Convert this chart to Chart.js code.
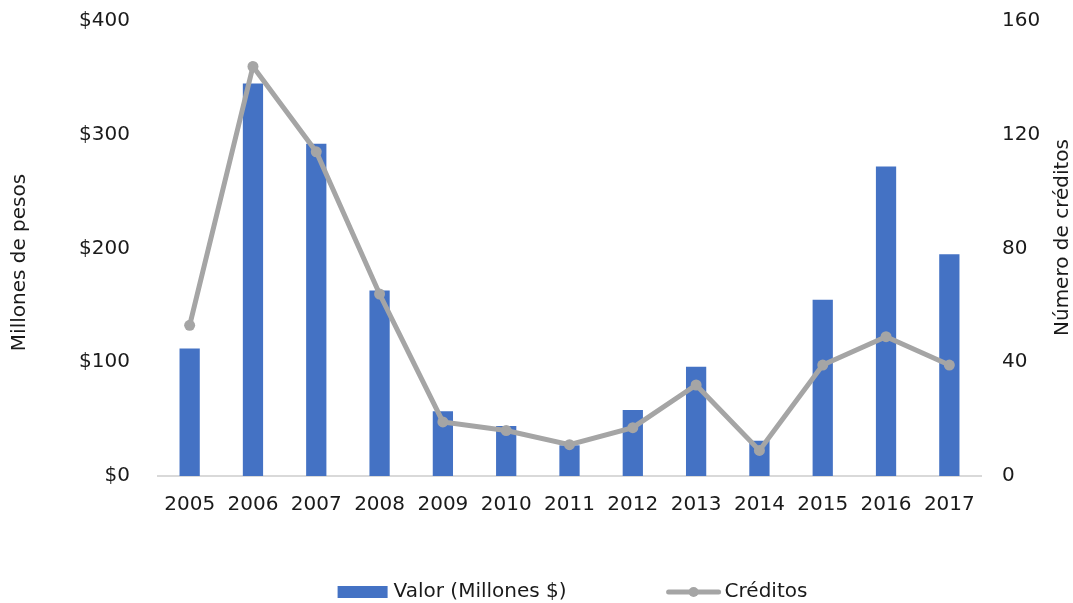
<!DOCTYPE html>
<html>
<head>
<meta charset="utf-8">
<script src="https://cdn.jsdelivr.net/npm/chart.js@4.4.1/dist/chart.umd.min.js"></script>
<style>
  html, body { margin: 0; padding: 0; background: #fff; }
  #wrap { width: 1073px; height: 603px; }
</style>
</head>
<body>
<div id="wrap"><canvas id="chart" width="1073" height="603"></canvas></div>
<script>
const years = ['2005', '2006', '2007', '2008', '2009', '2010', '2011', '2012', '2013', '2014', '2015', '2016', '2017'];
const valor = [112, 345, 292, 163, 57, 44, 27, 58, 96, 31, 155, 272, 195];
const creditos = [53, 144, 114, 64, 19, 16, 11, 17, 32, 9, 39, 49, 39];
const leftTicks = [0, 100, 200, 300, 400];
const rightTicks = [0, 40, 80, 120, 160];
const leftTitle = 'Millones de pesos';
const rightTitle = 'Número de créditos';

const FONT = '"DejaVu Sans", Verdana, sans-serif';
const BLUE = '#4472C4';
const GREY = '#A5A5A5';
const TEXT = '#1a1a1a';

function vText(ctx, text, x, y) {
  ctx.save();
  ctx.translate(x, y);
  ctx.rotate(-Math.PI / 2);
  ctx.textAlign = 'center';
  ctx.textBaseline = 'middle';
  ctx.fillText(text, 0, 0);
  ctx.restore();
}

// axis titles (both read bottom to top) and the legend under the axis
const extras = {
  id: 'extras',
  afterDraw(chart) {
    const ctx = chart.ctx;
    const area = chart.chartArea;
    const mid = (area.top + area.bottom) / 2;
    ctx.save();
    ctx.font = '20px ' + FONT;
    ctx.fillStyle = TEXT;

    vText(ctx, leftTitle, 20, mid + 14);
    vText(ctx, rightTitle, 1063, mid - 11);

    const y = 592;
    ctx.textBaseline = 'middle';
    const ds = chart.data.datasets;
    const w0 = ctx.measureText(ds[0].label).width;
    const w1 = ctx.measureText(ds[1].label).width;
    const total = 50 + 6 + w0 + 100 + 54 + 4 + w1;
    let x = (area.left + area.right) / 2 - total / 2 + 3;
    ctx.fillStyle = ds[0].backgroundColor;
    ctx.fillRect(x, y - 6, 50, 12);
    x += 56;
    ctx.fillStyle = TEXT;
    ctx.fillText(ds[0].label, x, y);
    x += w0 + 100;
    ctx.strokeStyle = ds[1].borderColor;
    ctx.lineWidth = 5;
    ctx.lineCap = 'round';
    ctx.beginPath();
    ctx.moveTo(x + 2, y);
    ctx.lineTo(x + 52, y);
    ctx.stroke();
    ctx.fillStyle = ds[1].borderColor;
    ctx.beginPath();
    ctx.arc(x + 27, y, 5, 0, Math.PI * 2);
    ctx.fill();
    x += 58;
    ctx.fillStyle = TEXT;
    ctx.fillText(ds[1].label, x, y);
    ctx.restore();
  }
};

// tick padding would otherwise push the plot top down
function fixY(width) {
  return scale => {
    scale.width = width;
    scale.paddingTop = 10;
    scale.paddingBottom = 10;
  };
}

new Chart(document.getElementById('chart'), {
  type: 'bar',
  data: {
    labels: years,
    datasets: [
      {
        type: 'bar',
        label: 'Valor (Millones $)',
        data: valor,
        backgroundColor: BLUE,
        yAxisID: 'y',
        categoryPercentage: 1,
        barPercentage: 0.32,
        order: 1
      },
      {
        type: 'line',
        label: 'Créditos',
        data: creditos,
        borderColor: GREY,
        backgroundColor: GREY,
        borderWidth: 5,
        pointRadius: 5.5,
        pointHoverRadius: 5.5,
        pointBackgroundColor: GREY,
        pointBorderWidth: 0,
        tension: 0,
        yAxisID: 'y1',
        order: 0
      }
    ]
  },
  options: {
    responsive: false,
    animation: false,
    layout: { padding: { top: 21, left: 0, right: 0, bottom: 0 } },
    plugins: {
      legend: { display: false },
      tooltip: { enabled: false }
    },
    scales: {
      x: {
        grid: { display: false },
        border: { display: true, color: '#d9d9d9', width: 2 },
        ticks: { color: TEXT, font: { family: FONT, size: 20 }, padding: 9, maxRotation: 0 },
        afterFit(scale) { scale.height = 603 - 476; }
      },
      y: {
        position: 'left',
        min: 0,
        max: 400,
        afterBuildTicks(scale) { scale.ticks = leftTicks.map(v => ({ value: v })); },
        grid: { display: false, drawTicks: false },
        border: { display: false },
        ticks: {
          color: TEXT,
          font: { family: FONT, size: 20 },
          padding: 28,
          callback: v => '$' + v
        },
        afterFit: fixY(158)
      },
      y1: {
        position: 'right',
        min: 0,
        max: 160,
        afterBuildTicks(scale) { scale.ticks = rightTicks.map(v => ({ value: v })); },
        grid: { display: false, drawTicks: false },
        border: { display: false },
        ticks: { color: TEXT, font: { family: FONT, size: 20 }, padding: 21 },
        afterFit: fixY(1073 - 981)
      }
    }
  },
  plugins: [extras]
});
</script>
</body>
</html>
